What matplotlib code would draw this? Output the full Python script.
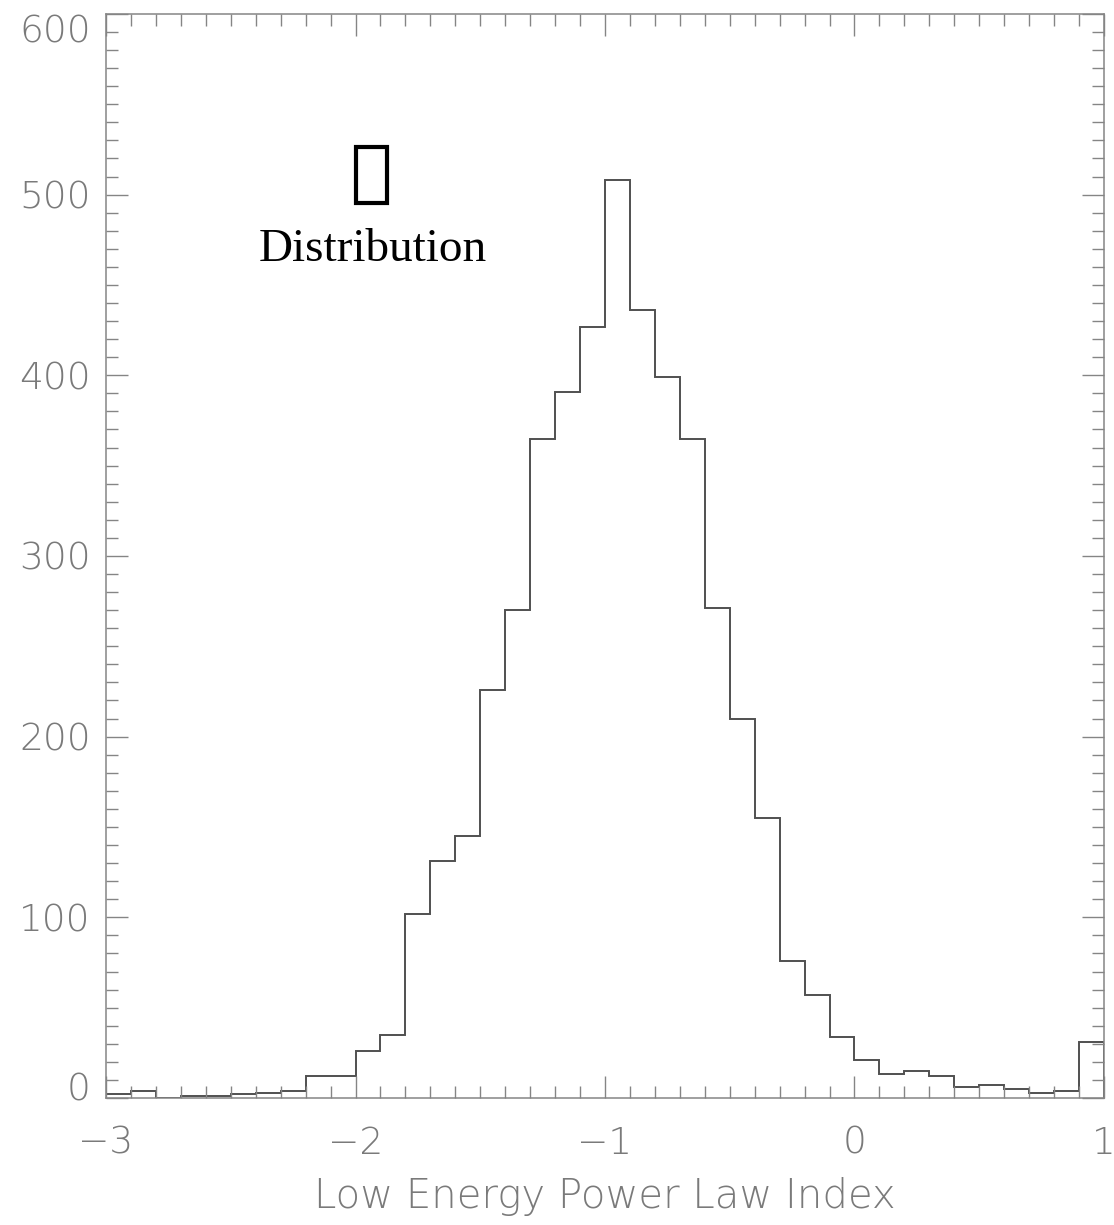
import numpy as np
import matplotlib
matplotlib.use("Agg")
import matplotlib.pyplot as plt
from matplotlib.patches import Rectangle
from matplotlib.ticker import MultipleLocator
from matplotlib.transforms import ScaledTranslation

# histogram of the low energy power law index, 0.1 wide bins from -3 to 1
bin_edges = np.linspace(-3.0, 1.0, 41)
counts = [
    2, 4, 0, 1, 1, 2, 3, 4, 12, 12,
    26, 35, 102, 131, 145, 226, 270, 365, 391, 427,
    508, 436, 399, 365, 271, 210, 155, 76, 57, 34,
    21, 13, 15, 12, 6, 7, 5, 3, 4, 31,
]
y_ticks = [0, 100, 200, 300, 400, 500, 600]
x_ticks = [-3, -2, -1, 0, 1]
x_label = "Low Energy Power Law Index"
note = "Distribution"

AXIS_GREY = "#858585"
TEXT_GREY = "#7a7a7a"
LINE_GREY = "#505050"
tick_font = dict(family="DejaVu Sans", weight="light", size=27, color=TEXT_GREY)
label_font = dict(tick_font, size=29)

fig = plt.figure(figsize=(11.14, 12.25), dpi=100)
ax = fig.add_axes([0.0952, 0.1037, 0.8958, 0.8849])

ax.stairs(counts, bin_edges, baseline=0, color=LINE_GREY, linewidth=1.4)

ax.set_xlim(-3, 1)
ax.set_ylim(0, 600)
ax.set_xticks(x_ticks)
ax.set_xticklabels([f"{v}".replace("-", "\u2212") for v in x_ticks], fontdict=tick_font)
ax.set_yticks(y_ticks)
ax.set_yticklabels([str(v) for v in y_ticks], fontdict=tick_font)
ax.xaxis.set_minor_locator(MultipleLocator(0.1))
ax.yaxis.set_minor_locator(MultipleLocator(10))

ax.tick_params(which="both", direction="in", top=True, right=True,
               color=AXIS_GREY, width=1.0)
ax.tick_params(which="major", length=15.5)
ax.tick_params(which="minor", length=8.5)
ax.tick_params(axis="x", which="major", pad=20)
ax.tick_params(axis="y", which="major", pad=11)
for sp in ax.spines.values():
    sp.set_color(AXIS_GREY)
    sp.set_linewidth(1.1)

# edge labels on the y axis sit a little inside the frame
ylabels = ax.get_yticklabels()
ylabels[0].set_transform(ylabels[0].get_transform() + ScaledTranslation(0, 11 / 100, fig.dpi_scale_trans))
ylabels[-1].set_transform(ylabels[-1].get_transform() + ScaledTranslation(0, -15 / 100, fig.dpi_scale_trans))

ax.set_xlabel(x_label, fontdict=label_font, labelpad=12)

# missing-glyph box with the caption underneath
fig.patches.append(Rectangle((356 / 1114, 1 - 203 / 1225), 31 / 1114, 56 / 1225,
                             transform=fig.transFigure, fill=False,
                             edgecolor="black", linewidth=3.0))
fig.text(373 / 1114, 1 - 261 / 1225, note, ha="center", va="baseline",
         family="Liberation Serif", size=34, color="black")

fig.savefig("out.png", dpi=100, facecolor="white")
